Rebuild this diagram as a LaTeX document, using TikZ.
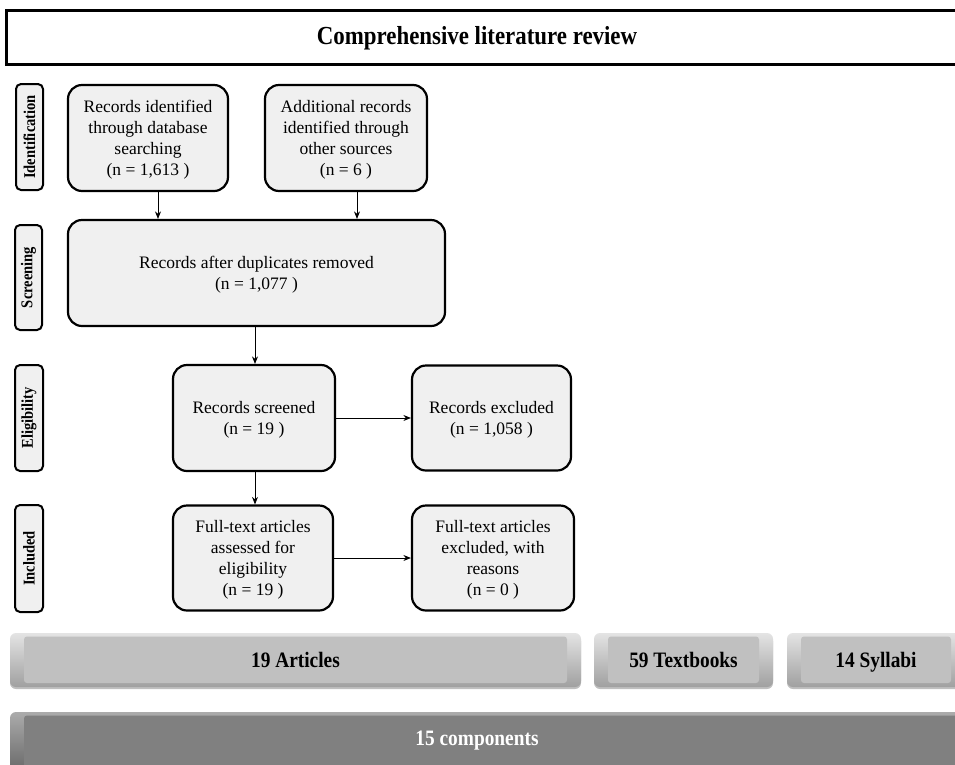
\documentclass[tikz,border=0pt]{standalone}
\usepackage{fontspec}
\setmainfont{Liberation Serif}
\newfontfamily\condb{Liberation Serif}[FakeStretch=0.88]
\usetikzlibrary{arrows.meta,shadows}
\definecolor{boxfill}{HTML}{F0F0F0}
\definecolor{btnhi}{HTML}{E4E4E4}
\definecolor{btnlo}{HTML}{A0A0A0}
\definecolor{btnface}{HTML}{C0C0C0}
\definecolor{comphi}{HTML}{ABABAB}
\definecolor{complo}{HTML}{686868}
\definecolor{compface}{HTML}{808080}
\tikzset{
  flowbox/.style={draw, line width=2.2pt, fill=boxfill, rounded corners=14pt,
    align=center, inner sep=2pt, font=\fontsize{17.5}{21}\selectfont, text depth=0pt},
  phaselab/.style={draw, line width=2pt, fill=boxfill, rounded corners=5pt,
    inner sep=0pt, font=\fontsize{16.5}{18}\condb\bfseries},
  arr/.style={-{Stealth[length=7.5pt,width=6pt]}, line width=0.9pt},
  bevel/.style n args={3}{rounded corners=6pt, inner sep=0pt, top color=#1, bottom color=#2,
    drop shadow={shadow xshift=0pt, shadow yshift=-2pt, opacity=0.25, fill=black},
    path picture={\fill[#3, rounded corners=3pt]
      ([shift={(14pt,-3.5pt)}]path picture bounding box.north west) rectangle
      ([shift={(-14pt,4pt)}]path picture bounding box.south east);}},
  btntext/.style={font=\fontsize{22}{24}\condb\bfseries, text height=19pt, text depth=5pt}
}
\begin{document}
\begin{tikzpicture}[x=1pt,y=-1pt]
\useasboundingbox (0,0) rectangle (955,764);
\clip (0,0) rectangle (955,764);
\fill[white] (0,0) rectangle (955,764);

% title
\node[draw, line width=3pt, fill=white, minimum width=969pt, minimum height=54pt] (titlebox) at (490.5,37) {};
\node[font=\fontsize{26}{28}\condb\bfseries] (title) at (477,38) {Comprehensive literature review};

% phase labels
\node[phaselab, minimum width=27pt, minimum height=106pt] (idlab) at (29.5,137) {\rotatebox{90}{Identification}};
\node[phaselab, minimum width=27pt, minimum height=105pt] (scrlab) at (28.5,277.5) {\rotatebox{90}{Screening}};
\node[phaselab, minimum width=28pt, minimum height=106pt] (elilab) at (29,418) {\rotatebox{90}{Eligibility}};
\node[phaselab, minimum width=28pt, minimum height=107pt] (inclab) at (29,558.5) {\rotatebox{90}{Included}};

% flow boxes
\node[flowbox, minimum width=160pt, minimum height=106pt] (rid) at (148,138)
  {Records identified\\through database\\searching\\(n = 1,613 )};
\node[flowbox, minimum width=162pt, minimum height=106pt] (add) at (346,138)
  {Additional records\\identified through\\other sources\\(n = 6 )};
\node[flowbox, minimum width=377pt, minimum height=106pt] (dup) at (256.5,273)
  {Records after duplicates removed\\(n = 1,077 )};
\node[flowbox, minimum width=162pt, minimum height=106pt] (scr) at (254,418)
  {Records screened\\(n = 19 )};
\node[flowbox, minimum width=159pt, minimum height=105pt] (exc) at (491.5,418)
  {Records excluded\\(n = 1,058 )};
\node[flowbox, minimum width=160pt, minimum height=105pt] (full) at (253,558)
  {Full-text articles\\assessed for\\eligibility\\(n = 19 )};
\node[flowbox, minimum width=162pt, minimum height=105pt] (fexc) at (493,558)
  {Full-text articles\\excluded, with\\reasons\\(n = 0 )};

% connectors
\coordinate (a1) at (158,0);
\coordinate (a2) at (357,0);
\coordinate (a3) at (255,0);
\draw[arr] (rid.south -| a1) -- (dup.north -| a1);
\draw[arr] (add.south -| a2) -- (dup.north -| a2);
\draw[arr] (dup.south -| a3) -- (scr.north -| a3);
\draw[arr] (scr.south -| a3) -- (full.north -| a3);
\draw[arr] (scr.east) -- (exc.west);
\draw[arr] (full.east) -- (fexc.west);

% bottom buttons
\node[bevel={btnhi}{btnlo}{btnface}, btntext, minimum width=571pt, minimum height=54pt] (art) at (295.5,660) {19 Articles};
\node[bevel={btnhi}{btnlo}{btnface}, btntext, minimum width=179pt, minimum height=54pt] (txt) at (683.5,660) {59 Textbooks};
\node[bevel={btnhi}{btnlo}{btnface}, btntext, minimum width=178pt, minimum height=54pt] (syl) at (876,660) {14 Syllabi};
\node[bevel={comphi}{complo}{compface}, minimum width=965pt, minimum height=60pt] (comp) at (492.5,742) {};
\node[btntext, text=white] (comptxt) at (477,738) {15 components};
\end{tikzpicture}
\end{document}
